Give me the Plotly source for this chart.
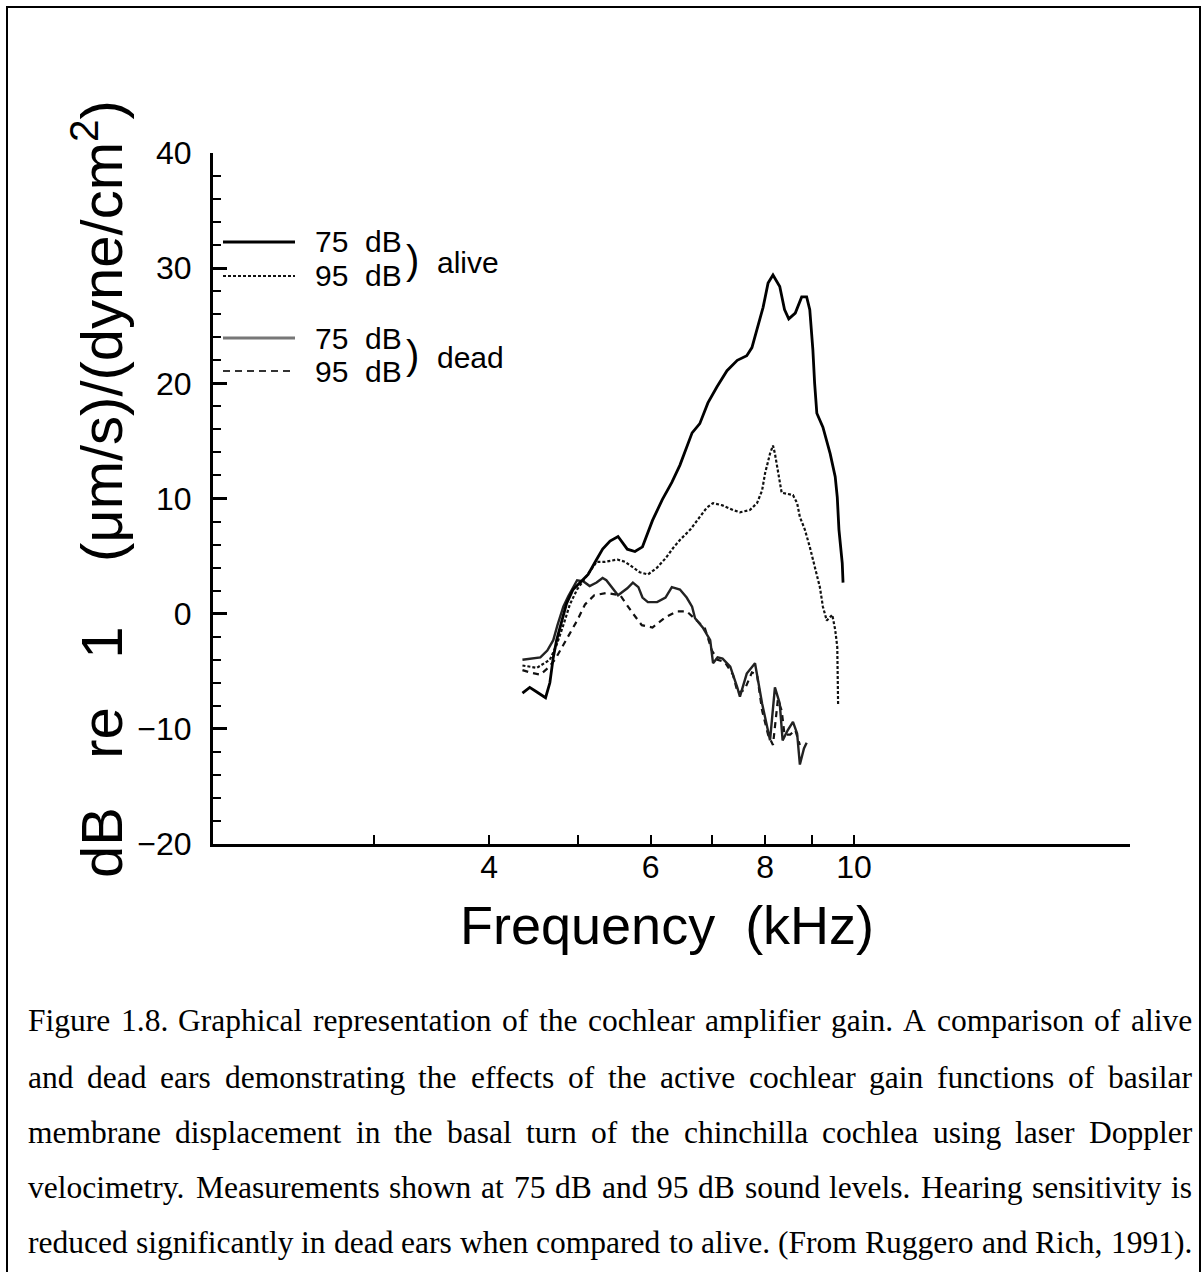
import math
import plotly.graph_objects as go

# ---------------- data ----------------
alive75_khz = [4.35, 4.43, 4.51, 4.61, 4.66, 4.70, 4.74, 4.80, 4.86, 4.94,
               5.03, 5.13, 5.24, 5.32, 5.42, 5.53, 5.66, 5.77, 5.88, 6.03,
               6.18, 6.33, 6.46, 6.66, 6.79, 6.93, 7.09, 7.27, 7.46, 7.64,
               7.74, 7.86, 7.96, 8.06, 8.16, 8.30, 8.40, 8.49, 8.63, 8.77,
               8.88, 8.95, 9.02, 9.06, 9.11, 9.25, 9.42, 9.54, 9.59, 9.63,
               9.71, 9.73]
alive75_db = [-6.9, -6.4, -6.8, -7.3, -6.0, -3.8, -2.3, -0.6, 0.9, 2.1,
              2.7, 3.4, 4.7, 5.6, 6.3, 6.7, 5.6, 5.4, 5.8, 8.1,
              9.9, 11.4, 12.9, 15.7, 16.5, 18.3, 19.7, 21.1, 22.0, 22.4,
              23.1, 24.9, 26.6, 28.7, 29.4, 28.4, 26.4, 25.6, 26.1, 27.5,
              27.5, 26.4, 22.9, 20.0, 17.4, 16.2, 13.9, 11.9, 10.1, 7.3,
              4.4, 2.7]

alive95_khz = [4.35, 4.51, 4.66, 4.74, 4.82, 4.90, 4.99, 5.09, 5.18, 5.24,
               5.35, 5.52, 5.63, 5.74, 5.84, 5.96, 6.10, 6.23, 6.35, 6.46,
               6.63, 6.79, 6.91, 7.02, 7.19, 7.38, 7.51, 7.70, 7.84, 7.94,
               8.00, 8.10, 8.16, 8.20, 8.26, 8.34, 8.58, 8.67, 8.73, 8.84,
               8.95, 9.06, 9.18, 9.25, 9.34, 9.47, 9.54, 9.59, 9.60, 9.61]
alive95_db = [-4.5, -4.7, -4.0, -2.7, -1.0, 0.8, 2.1, 3.1, 4.0, 4.5,
              4.5, 4.7, 4.5, 4.0, 3.6, 3.4, 4.0, 4.8, 5.7, 6.4,
              7.3, 8.4, 9.2, 9.6, 9.4, 9.0, 8.8, 9.0, 9.6, 10.7,
              12.2, 13.9, 14.6, 13.9, 12.5, 10.5, 10.3, 9.6, 8.4, 7.3,
              5.8, 4.0, 2.3, 0.6, -0.6, -0.1, -1.4, -2.9, -5.2, -7.9]

dead75_khz = [4.35, 4.45, 4.55, 4.63, 4.70, 4.75, 4.82, 4.88, 4.96, 4.99,
              5.07, 5.15, 5.24, 5.32, 5.37, 5.45, 5.53, 5.66, 5.74, 5.82,
              5.88, 5.96, 6.10, 6.23, 6.33, 6.46, 6.57, 6.66, 6.71, 6.84,
              6.97, 7.02, 7.10, 7.19, 7.33, 7.46, 7.51, 7.64, 7.80, 7.86,
              7.94, 8.04, 8.10, 8.20, 8.30, 8.36, 8.47, 8.58, 8.67, 8.73,
              8.82, 8.88]
dead75_db = [-4.0, -3.9, -3.8, -3.2, -2.3, -1.0, 0.6, 1.5, 2.5, 2.9,
             2.8, 2.4, 2.7, 3.1, 2.9, 2.2, 1.6, 2.2, 2.7, 2.3,
             1.4, 1.0, 1.0, 1.4, 2.3, 2.1, 1.4, 0.6, -0.4, -1.2,
             -2.3, -4.3, -3.8, -3.9, -4.6, -6.4, -7.2, -5.2, -4.3, -5.8,
             -7.8, -9.8, -11.0, -6.4, -7.8, -11.0, -10.1, -9.4, -10.4, -13.1,
             -11.7, -11.2]

dead95_khz = [4.35, 4.43, 4.55, 4.64, 4.72, 4.80, 4.88, 4.99, 5.09, 5.21,
              5.37, 5.56, 5.73, 5.87, 6.03, 6.23, 6.41, 6.57, 6.74, 6.88,
              7.00, 7.10, 7.23, 7.38, 7.47, 7.60, 7.74, 7.84, 7.94, 8.06,
              8.16, 8.26, 8.34, 8.40, 8.52, 8.63, 8.73]
dead95_db = [-4.9, -5.1, -5.3, -4.7, -4.0, -3.0, -1.9, -0.6, 0.8, 1.6,
             1.8, 1.6, 0.1, -1.0, -1.2, -0.3, 0.2, 0.2, -0.6, -1.3,
             -3.2, -4.0, -4.2, -5.3, -6.9, -6.6, -5.1, -5.3, -8.4, -10.5,
             -11.4, -7.5, -8.4, -10.5, -10.5, -10.1, -11.4]

x_major_vals = [4, 6, 8, 10]
x_major_text = ["4", "6", "8", "10"]
x_minor_vals = [3, 5, 7, 9]

caption_lines = [
    "Figure 1.8. Graphical representation of the cochlear amplifier gain. A comparison of alive",
    "and dead ears demonstrating the effects of the active cochlear gain functions of basilar",
    "membrane displacement in the basal turn of the chinchilla cochlea using laser Doppler",
    "velocimetry. Measurements shown at 75 dB and 95 dB sound levels. Hearing sensitivity is",
    "reduced significantly in dead ears when compared to alive. (From Ruggero and Rich, 1991).",
]

# ---------------- layout geometry ----------------
W, H = 1203, 1272
ML, MR, MT, MB = 213, 73, 153, 428
PW = W - ML - MR
PH = H - MT - MB


def pxx(px):
    return (px - ML) / PW


def pxy(py):
    return (H - MB - py) / PH


SANS = "Liberation Sans"
SERIF = "Liberation Serif"
NB = "\u00a0"

fig = go.Figure()

fig.add_trace(go.Scatter(x=dead95_khz, y=dead95_db, mode="lines",
                         line=dict(color="#111", width=2.2, dash="6px,5px")))
fig.add_trace(go.Scatter(x=dead75_khz, y=dead75_db, mode="lines",
                         line=dict(color="#222", width=2.4)))
fig.add_trace(go.Scatter(x=alive95_khz, y=alive95_db, mode="lines",
                         line=dict(color="#111", width=2.2, dash="3px,2px")))
fig.add_trace(go.Scatter(x=alive75_khz, y=alive75_db, mode="lines",
                         line=dict(color="black", width=2.8)))

fig.update_layout(
    width=W, height=H,
    margin=dict(l=ML, r=MR, t=MT, b=MB, pad=0),
    paper_bgcolor="white", plot_bgcolor="white",
    showlegend=False,
    font=dict(family=SANS, color="black"),
)

fig.update_xaxes(
    type="log", range=[math.log10(2), math.log10(20)],
    tickmode="array", tickvals=x_major_vals, ticktext=x_major_text,
    ticks="inside", ticklen=9, tickwidth=2, tickcolor="black",
    minor=dict(tickmode="array", tickvals=x_minor_vals, ticks="inside",
               ticklen=9, tickwidth=2, tickcolor="black", showgrid=False),
    showline=True, linecolor="black", linewidth=3,
    showgrid=False, zeroline=False,
    tickfont=dict(family=SANS, size=32, color="black"),
    ticklabelstandoff=-7,
)
fig.update_yaxes(
    range=[-20, 40], tick0=0, dtick=10,
    ticks="inside", ticklen=14, tickwidth=2.5, tickcolor="black",
    minor=dict(dtick=2, ticks="inside", ticklen=8, tickwidth=2,
               tickcolor="black", showgrid=False),
    showline=True, linecolor="black", linewidth=3,
    showgrid=False, zeroline=False,
    tickfont=dict(family=SANS, size=32, color="black"),
    ticklabelstandoff=12,
)

# axis titles
fig.add_annotation(
    text="dB" + NB * 3 + "re" + NB * 3 + "1" + NB * 4 + "(\u03bcm/s)/(dyne/cm<sup>2</sup>)",
    x=pxx(97), y=pxy(489), xref="paper", yref="paper",
    xanchor="center", yanchor="middle", textangle=-90, showarrow=False,
    font=dict(family=SANS, size=58, color="black"),
)
fig.add_annotation(
    text="Frequency" + NB * 2 + "(kHz)",
    x=pxx(667), y=pxy(925), xref="paper", yref="paper",
    xanchor="center", yanchor="middle", showarrow=False,
    font=dict(family=SANS, size=54, color="black"),
)

# legend (drawn by hand, as in the original)
leg = [
    (242, dict(color="black", width=2.8)),
    (276, dict(color="#111", width=2.2, dash="3px,2px")),
    (338, dict(color="#777", width=3)),
    (371, dict(color="#333", width=2.2, dash="7px,5px")),
]
for yy, ln in leg:
    fig.add_shape(type="line", xref="paper", yref="paper",
                  x0=pxx(223), x1=pxx(295), y0=pxy(yy), y1=pxy(yy), line=ln)

for yy, txt in [(241, "75" + NB * 2 + "dB"), (275, "95" + NB * 2 + "dB"),
                (338, "75" + NB * 2 + "dB"), (371, "95" + NB * 2 + "dB")]:
    fig.add_annotation(text=txt, x=pxx(313), y=pxy(yy), xref="paper", yref="paper",
                       xanchor="left", yanchor="middle", showarrow=False,
                       font=dict(family=SANS, size=30, color="black"))
for yy, txt in [(260, "alive"), (355, "dead")]:
    fig.add_annotation(text=")", x=pxx(412), y=pxy(yy), xref="paper", yref="paper",
                       xanchor="center", yanchor="middle", showarrow=False,
                       font=dict(family="DejaVu Sans ExtraLight, " + SANS, size=40, color="black"))
    fig.add_annotation(text=txt, x=pxx(435), y=pxy(yy + 2), xref="paper", yref="paper",
                       xanchor="left", yanchor="middle", showarrow=False,
                       font=dict(family=SANS, size=30, color="black"))

# caption, justified word by word (Times metrics, 1/1000 em)
TW = {' ': 250, 'a': 444, 'b': 500, 'c': 444, 'd': 500, 'e': 444, 'f': 333, 'g': 500,
      'h': 500, 'i': 278, 'j': 278, 'k': 500, 'l': 278, 'm': 778, 'n': 500, 'o': 500,
      'p': 500, 'q': 500, 'r': 333, 's': 389, 't': 278, 'u': 500, 'v': 500, 'w': 722,
      'x': 500, 'y': 500, 'z': 444, 'A': 722, 'B': 667, 'C': 667, 'D': 722, 'E': 611,
      'F': 556, 'G': 722, 'H': 722, 'I': 333, 'J': 389, 'K': 722, 'L': 611, 'M': 889,
      'N': 722, 'O': 722, 'P': 556, 'Q': 722, 'R': 667, 'S': 556, 'T': 611, 'U': 722,
      'V': 722, 'W': 944, 'X': 722, 'Y': 722, 'Z': 611, '.': 250, ',': 250, '(': 333,
      ')': 333, '-': 333}
CAP_SIZE = 31.5
CAP_L, CAP_R = 27, 1191
cap_y = [1020, 1077, 1132, 1187, 1242]


def tw(s):
    return sum(TW.get(ch, 500) for ch in s) / 1000.0 * CAP_SIZE


for line, yc in zip(caption_lines, cap_y):
    words = line.split(" ")
    ws = [tw(w) for w in words]
    gap = (CAP_R - CAP_L - sum(ws)) / (len(words) - 1)
    gap = max(gap, 0.22 * CAP_SIZE)
    xcur = CAP_L
    for w, wd in zip(words, ws):
        fig.add_annotation(text=w, x=pxx(xcur), y=pxy(yc), xref="paper", yref="paper",
                           xanchor="left", yanchor="middle", showarrow=False, borderpad=0,
                           font=dict(family=SERIF, size=CAP_SIZE, color="black"))
        xcur += wd + gap

# outer frame
fig.add_shape(type="rect", xref="paper", yref="paper",
              x0=pxx(7), x1=pxx(1200), y0=pxy(1290), y1=pxy(7),
              line=dict(color="black", width=2), fillcolor="rgba(0,0,0,0)")

fig.write_html("out.html")
